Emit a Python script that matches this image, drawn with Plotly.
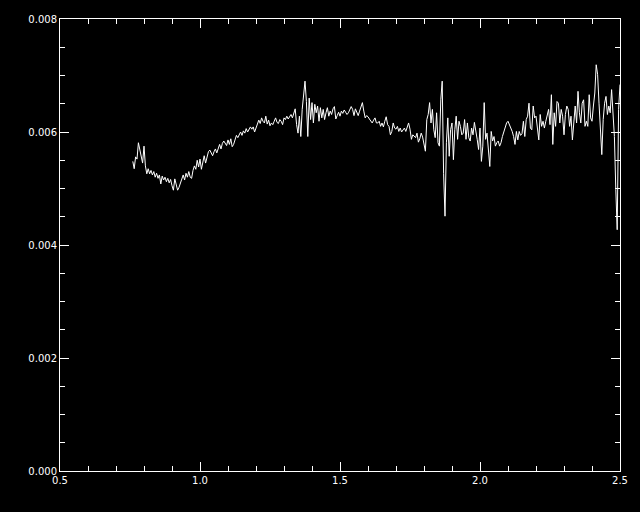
import numpy as np
import plotly.graph_objects as go

# Wavelength grid (microns): 0.760 .. 2.500, step 0.005
x_start = 0.760
x_step = 0.005

flux_a = [  # 0.760 - 1.175
    0.00548, 0.00535, 0.00556, 0.00552, 0.00581, 0.00568, 0.00553, 0.00545, 0.00575, 0.00540,
    0.00526, 0.00535, 0.00526, 0.00532, 0.00524, 0.00530, 0.00520, 0.00527, 0.00518, 0.00524,
    0.00508, 0.00522, 0.00515, 0.00520, 0.00512, 0.00518, 0.00510, 0.00516, 0.00505, 0.00497,
    0.00517, 0.00505, 0.00497, 0.00502, 0.00510, 0.00518, 0.00524, 0.00515, 0.00527, 0.00520,
    0.00530, 0.00520, 0.00518, 0.00532, 0.00540, 0.00534, 0.00550, 0.00538, 0.00552, 0.00534,
    0.00550, 0.00558, 0.00545, 0.00555, 0.00565, 0.00568, 0.00564, 0.00558, 0.00565, 0.00570,
    0.00563, 0.00572, 0.00578, 0.00570, 0.00580, 0.00584, 0.00581, 0.00576, 0.00586, 0.00578,
    0.00588, 0.00574, 0.00578, 0.00586, 0.00594, 0.00590, 0.00596, 0.00600, 0.00594, 0.00602,
    0.00598, 0.00606, 0.00600, 0.00605,
]

flux_b = [  # 1.180 - 1.620
    0.00609, 0.00605, 0.00609, 0.00600, 0.00607, 0.00613, 0.00621, 0.00615, 0.00625, 0.00619,
    0.00616, 0.00628, 0.00614, 0.00621, 0.00611, 0.00616, 0.00613, 0.00619, 0.00625, 0.00617,
    0.00615, 0.00622, 0.00619, 0.00613, 0.00625, 0.00622, 0.00628, 0.00623, 0.00628, 0.00631,
    0.00625, 0.00634, 0.00641, 0.00613, 0.00598, 0.00628, 0.00592, 0.00640, 0.00669, 0.00690,
    0.00654, 0.00592, 0.00660, 0.00622, 0.00652, 0.00616, 0.00649, 0.00634, 0.00646, 0.00619,
    0.00643, 0.00625, 0.00640, 0.00622, 0.00634, 0.00643, 0.00628, 0.00637, 0.00631, 0.00641,
    0.00645, 0.00623, 0.00629, 0.00635, 0.00628, 0.00637, 0.00633, 0.00639, 0.00635, 0.00631,
    0.00634, 0.00639, 0.00645, 0.00640, 0.00629, 0.00641, 0.00635, 0.00629, 0.00637, 0.00646,
    0.00652, 0.00637, 0.00625, 0.00629, 0.00627, 0.00623, 0.00619, 0.00616, 0.00621,
]

flux_c = [  # 1.625 - 2.065
    0.00625, 0.00616, 0.00616, 0.00619, 0.00610, 0.00616, 0.00609, 0.00619, 0.00627, 0.00613,
    0.00610, 0.00595, 0.00601, 0.00616, 0.00607, 0.00605, 0.00610, 0.00601, 0.00607, 0.00600,
    0.00604, 0.00607, 0.00601, 0.00607, 0.00616, 0.00605, 0.00587, 0.00595, 0.00592, 0.00590,
    0.00598, 0.00582, 0.00588, 0.00598, 0.00591, 0.00581, 0.00566, 0.00622, 0.00631, 0.00652,
    0.00616, 0.00640, 0.00604, 0.00590, 0.00634, 0.00581, 0.00575, 0.00657, 0.00690, 0.00527,
    0.00451, 0.00581, 0.00625, 0.00557, 0.00604, 0.00616, 0.00551, 0.00604, 0.00628, 0.00587,
    0.00619, 0.00610, 0.00595, 0.00598, 0.00622, 0.00587, 0.00616, 0.00590, 0.00584, 0.00607,
    0.00595, 0.00617, 0.00604, 0.00587, 0.00569, 0.00607, 0.00548, 0.00575, 0.00652, 0.00587,
    0.00598, 0.00563, 0.00539, 0.00601, 0.00584, 0.00592, 0.00575, 0.00581, 0.00584,
]

flux_d = [  # 2.070 - 2.500
    0.00575, 0.00581, 0.00592, 0.00601, 0.00610, 0.00616, 0.00619, 0.00613, 0.00610, 0.00601,
    0.00592, 0.00578, 0.00601, 0.00586, 0.00601, 0.00594, 0.00597, 0.00619, 0.00592, 0.00622,
    0.00628, 0.00651, 0.00607, 0.00604, 0.00646, 0.00625, 0.00628, 0.00604, 0.00586, 0.00631,
    0.00610, 0.00619, 0.00607, 0.00619, 0.00631, 0.00640, 0.00613, 0.00666, 0.00578, 0.00634,
    0.00610, 0.00654, 0.00651, 0.00616, 0.00640, 0.00628, 0.00595, 0.00631, 0.00646, 0.00640,
    0.00610, 0.00628, 0.00586, 0.00625, 0.00646, 0.00616, 0.00672, 0.00634, 0.00616, 0.00651,
    0.00657, 0.00610, 0.00619, 0.00610, 0.00666, 0.00625, 0.00619, 0.00646, 0.00669, 0.00719,
    0.00702, 0.00651, 0.00610, 0.00560, 0.00622, 0.00651, 0.00663, 0.00631, 0.00646, 0.00634,
    0.00675, 0.00640, 0.00592, 0.00498, 0.00427, 0.00640, 0.00684,
]

flux = flux_a + flux_b + flux_c + flux_d
wave = np.round(x_start + x_step * np.arange(len(flux)), 3)

x_tickvals = [0.5, 1.0, 1.5, 2.0, 2.5]
x_ticktext = ["0.5", "1.0", "1.5", "2.0", "2.5"]
y_tickvals = [0.000, 0.002, 0.004, 0.006, 0.008]
y_ticktext = ["0.000", "0.002", "0.004", "0.006", "0.008"]

fig = go.Figure()
fig.add_trace(go.Scatter(x=wave, y=flux, mode="lines",
                         line=dict(color="white", width=1), showlegend=False,
                         hoverinfo="skip"))

axis_common = dict(
    showline=True, linecolor="white", linewidth=1, mirror="allticks",
    ticks="inside", tickcolor="white", tickwidth=1, ticklen=9,
    showgrid=False, zeroline=False,
    tickfont=dict(family="DejaVu Sans", size=10, color="white"),
)

fig.update_xaxes(range=[0.5, 2.5], tickvals=x_tickvals, ticktext=x_ticktext,
                 minor=dict(ticks="inside", ticklen=5, dtick=0.1, tickcolor="white",
                            tickwidth=1, showgrid=False),
                 **axis_common)
fig.update_yaxes(range=[0.0, 0.008], tickvals=y_tickvals, ticktext=y_ticktext,
                 minor=dict(ticks="inside", ticklen=5, dtick=0.0005, tickcolor="white",
                            tickwidth=1, showgrid=False),
                 **axis_common)

fig.update_layout(
    width=640, height=512,
    paper_bgcolor="black", plot_bgcolor="black",
    margin=dict(l=60, r=18, t=19, b=41),
)

fig.write_html("out.html",
               config={"displayModeBar": False, "staticPlot": True},
               post_script="document.body.style.margin='0';document.body.style.background='black';document.body.style.overflow='hidden';")
